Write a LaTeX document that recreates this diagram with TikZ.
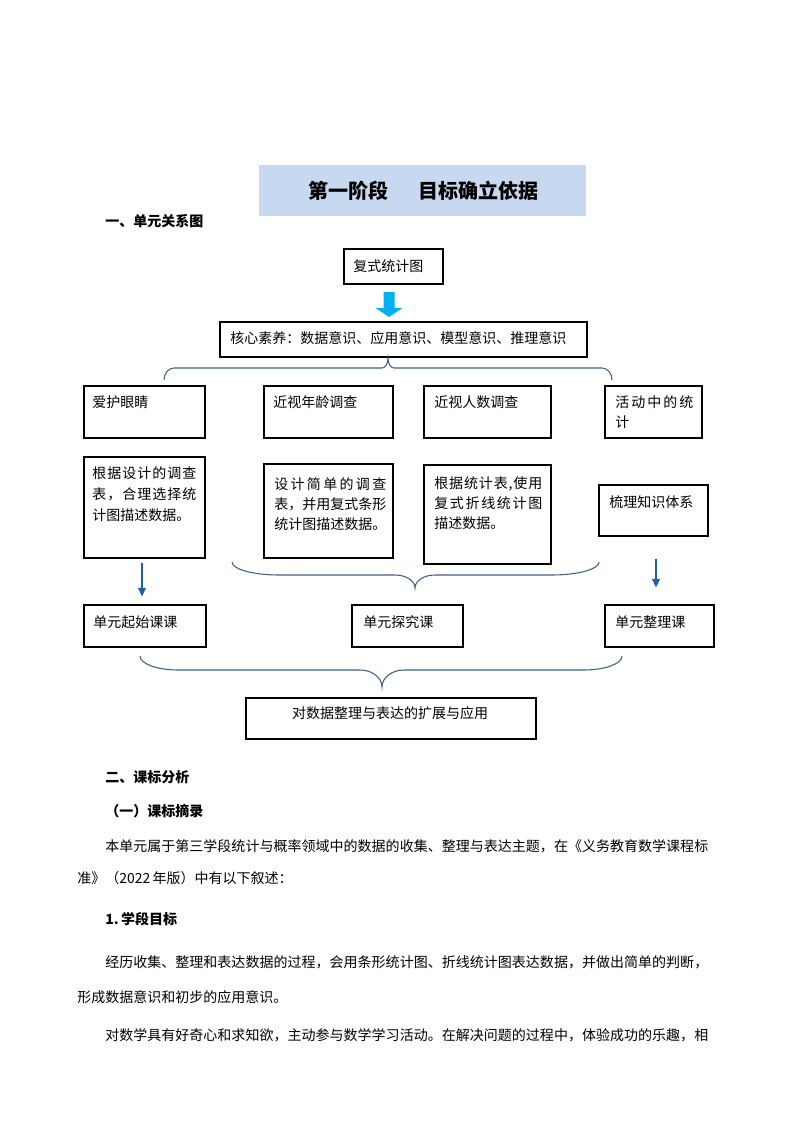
\documentclass[tikz,border=0pt]{standalone}
\usepackage{fontspec}
\setmainfont{Noto Sans CJK SC}
\usetikzlibrary{arrows.meta,calc}
\definecolor{bannerblue}{RGB}{198,217,241}
\definecolor{braceblue}{RGB}{66,96,136}
\definecolor{arrowblue}{RGB}{31,95,165}
\definecolor{blockblue}{RGB}{0,176,240}
\makeatletter
\def\spreadtext#1{\sp@first#1\relax}
\def\sp@first#1{#1\sp@loop}
\def\sp@loop#1{\ifx#1\relax\else\hfil#1\expandafter\sp@loop\fi}
\makeatother
\newcommand\jline[2]{\hbox to #1\dimexpr 0.75pt\relax{\spreadtext{#2}}}
\newcommand\mkbox[5]{\node[box, minimum width={(#4-#2)*0.75pt}, minimum height={(#5-#3)*0.75pt}] (#1) at ({(#2+#4)/2},{(#3+#5)/2}) {};}
\newcommand\hbr[8]{\draw[brace] (#1,#4) .. controls (#1,{#4+0.552*(#5-#4)}) and ({#1+0.448*#7},#5) .. ({#1+#7},#5) -- ({#3-#8},#5) .. controls ({#3-0.448*#8},#5) and (#3,{#5+0.448*(#6-#5)}) .. (#3,#6) .. controls (#3,{#5+0.448*(#6-#5)}) and ({#3+0.448*#8},#5) .. ({#3+#8},#5) -- ({#2-#7},#5) .. controls ({#2-0.448*#7},#5) and (#2,{#4+0.552*(#5-#4)}) .. (#2,#4);}
\tikzset{
  box/.style={draw=black, line width=0.8pt, rectangle, inner sep=0pt},
  txt/.style={inner sep=0pt, anchor=base west, font=\fontsize{10.5pt}{12pt}\selectfont},
  btxt/.style={txt, font=\fontsize{10.5pt}{12pt}\selectfont\bfseries},
  brace/.style={draw=braceblue, line width=0.8pt},
  arr/.style={draw=arrowblue, line width=0.8pt, -{Triangle[width=6pt,length=6.5pt]}, arrowblue},
}
\begin{document}
\begin{tikzpicture}[x=0.75pt,y=-0.75pt]
\useasboundingbox (0,0) rectangle (794,1123);
\fill[white] (0,0) rectangle (794,1123);

% banner
\fill[bannerblue] (259,165) rectangle (586,216);
\node[inner sep=0pt, font=\fontsize{15pt}{18pt}\selectfont\bfseries] (title) at (423,191) {第一阶段\hspace{1.5em}目标确立依据};
\node[btxt] (h1) at (105,227) {一、单元关系图};

% boxes
\mkbox{b0}{344}{249}{443}{284}
\mkbox{b1}{220}{322}{587}{357}
\mkbox{r1a}{84}{386}{205}{438}
\mkbox{r1b}{264}{386}{393}{438}
\mkbox{r1c}{424}{386}{551}{438}
\mkbox{r1d}{605}{386}{702}{438}
\mkbox{r2a}{84}{457}{205}{558}
\mkbox{r2b}{264}{464}{393}{558}
\mkbox{r2c}{424}{465}{551}{564}
\mkbox{r2d}{599}{485}{708}{536}
\mkbox{r3a}{84}{605}{206}{647}
\mkbox{r3b}{352}{605}{463}{647}
\mkbox{r3c}{605}{605}{714}{647}
\mkbox{b4}{246}{698}{536}{739}

% box texts
\node[txt] (tb0) at (353,272) {复式统计图};
\node[txt] (tb1) at (230,343) {核心素养：数据意识、应用意识、模型意识、推理意识};
\node[txt] (t1a) at (92,407) {爱护眼睛};
\node[txt] (t1b) at (273,407) {近视年龄调查};
\node[txt] (t1c) at (434,407) {近视人数调查};
\node[txt] (t1d1) at (615,407) {\jline{78}{活动中的统}};
\node[txt] (t1d2) at (615,427) {计};
\node[txt] (t2a1) at (92,478) {\jline{104}{根据设计的调查}};
\node[txt] (t2a2) at (92,499) {\jline{104}{表，合理选择统}};
\node[txt] (t2a3) at (92,520) {计图描述数据。};
\node[txt] (t2b1) at (274,489) {\jline{112}{设计简单的调查}};
\node[txt] (t2b2) at (274,509) {\jline{112}{表，并用复式条形}};
\node[txt] (t2b3) at (274,529) {\jline{112}{统计图描述数据。}};
\node[txt] (t2c1) at (434,488) {\jline{108}{根据统计表,使用}};
\node[txt] (t2c2) at (434,508) {\jline{108}{复式折线统计图}};
\node[txt] (t2c3) at (434,528) {描述数据。};
\node[txt] (t2d) at (609,507) {梳理知识体系};
\node[txt] (t3a) at (93,627) {单元起始课课};
\node[txt] (t3b) at (363,627) {单元探究课};
\node[txt] (t3c) at (615,627) {单元整理课};
\node[txt, anchor=base] (tb4) at (390,718) {对数据整理与表达的扩展与应用};

% block arrow
\fill[blockblue] (383.5,292) -- (394.5,292) -- (394.5,308) -- (402.5,308) -- (389,317) -- (375.5,308) -- (383.5,308) -- cycle;

% braces
\hbr{164}{612}{388}{380}{368}{358}{10}{6}
\hbr{232}{599}{415}{562}{575}{588}{47}{20}
\hbr{140}{622}{382}{656}{670}{687}{38}{22}

% arrows
\draw[arr] ($(r2a.south)+(-2.5,4)$) -- ($(r3a.north)+(-3,-8)$);
\draw[arr] ($(r2d.south)+(2.5,22)$) -- ($(r3c.north)+(-3.5,-17)$);

% body text
\node[btxt] (s1) at (105,782) {二、课标分析};
\node[btxt] (s2) at (105,816) {（一）课标摘录};
\node[txt] (p1) at (105,851) {\jline{603}{本单元属于第三学段统计与概率领域中的数据的收集、整理与表达主题，在《义务教育数学课程标}};
\node[txt] (p2) at (77,883) {准》（2022\,年版）中有以下叙述：};
\node[btxt] (s3) at (105,924) {1.\,学段目标};
\node[txt] (p3) at (105,967) {\jline{603}{经历收集、整理和表达数据的过程，会用条形统计图、折线统计图表达数据，并做出简单的判断，}};
\node[txt] (p4) at (77,1002) {形成数据意识和初步的应用意识。};
\node[txt] (p5) at (105,1040) {\jline{603}{对数学具有好奇心和求知欲，主动参与数学学习活动。在解决问题的过程中，体验成功的乐趣，相}};
\end{tikzpicture}
\end{document}
